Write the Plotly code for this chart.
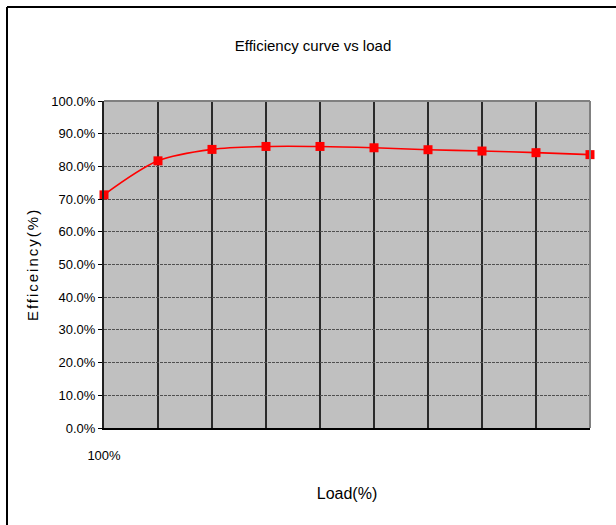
import plotly.graph_objects as go

# Data
load_idx = [0, 1, 2, 3, 4, 5, 6, 7, 8, 9]
load_labels = ["100%", "", "", "", "", "", "", "", "", ""]
efficiency = [0.713, 0.817, 0.852, 0.861, 0.861, 0.857, 0.851, 0.847, 0.842, 0.836]
y_ticks = [0.0, 0.1, 0.2, 0.3, 0.4, 0.5, 0.6, 0.7, 0.8, 0.9, 1.0]

W, H = 616, 525
ML, MR, MT, MB = 104, 26, 101, 97
PW = W - ML - MR
PH = H - MT - MB

def px_x(p):
    return (p - ML) / PW

def px_y(p):
    return (H - MB - p) / PH

narrow = "Liberation Sans Narrow, Arial Narrow, Liberation Sans, Arial"

fig = go.Figure()
fig.add_trace(go.Scatter(
    x=load_idx, y=efficiency,
    mode="lines+markers",
    line=dict(color="#FF0000", width=1.6, shape="spline", smoothing=0.9),
    marker=dict(symbol="square", size=9, color="#FF0000"),
    cliponaxis=False,
    showlegend=False,
))

fig.update_layout(
    width=W, height=H,
    margin=dict(l=ML, r=MR, t=MT, b=MB),
    paper_bgcolor="white",
    plot_bgcolor="#C0C0C0",
    title=dict(text="Efficiency curve vs load", x=313 / W, xanchor="center",
               y=1 - 46 / H, yanchor="middle",
               font=dict(family=narrow, size=15, color="black")),
    xaxis=dict(
        range=[0, 9], tickmode="array", tickvals=load_idx, ticktext=load_labels,
        showgrid=True, gridcolor="#2a2a2a", gridwidth=1.5,
        showline=True, linecolor="black", linewidth=2,
        ticks="", zeroline=False,
        ticklabelstandoff=14,
        tickfont=dict(family=narrow, size=13, color="black"),
        title=dict(text="Load(%)", standoff=26,
                   font=dict(family=narrow, size=16, color="black")),
    ),
    yaxis=dict(
        range=[0, 1], tickmode="array", tickvals=y_ticks, tickformat=".1%",
        showgrid=True, gridcolor="#505050", gridwidth=1, griddash="3px,1px",
        showline=True, linecolor="#202020", linewidth=2,
        ticks="outside", ticklen=4, tickcolor="black", zeroline=False,
        tickfont=dict(family=narrow, size=13, color="black"),
        title=dict(text="Efficeincy(%)", standoff=9,
                   font=dict(family="Liberation Sans, Arial", size=15, color="black")),
    ),
)

# top and right plot border (gray)
fig.add_shape(type="line", xref="paper", yref="paper", x0=0, x1=1, y0=1, y1=1,
              line=dict(color="#808080", width=2), layer="above")
fig.add_shape(type="line", xref="paper", yref="paper", x0=1, x1=1, y0=0, y1=1,
              line=dict(color="#808080", width=2), layer="above")

# outer chart frame (left and top edges visible)
fig.add_shape(type="line", xref="paper", yref="paper",
              x0=px_x(7), x1=px_x(640), y0=px_y(7), y1=px_y(7),
              line=dict(color="black", width=2))
fig.add_shape(type="line", xref="paper", yref="paper",
              x0=px_x(7), x1=px_x(7), y0=px_y(7), y1=px_y(560),
              line=dict(color="black", width=2))

post = (
    "document.body.style.margin='0';"
    "document.querySelectorAll('.ytitle').forEach(function(e){e.style.letterSpacing='2px';});"
)
fig.write_html("out.html", post_script=post, config={"displayModeBar": False})
